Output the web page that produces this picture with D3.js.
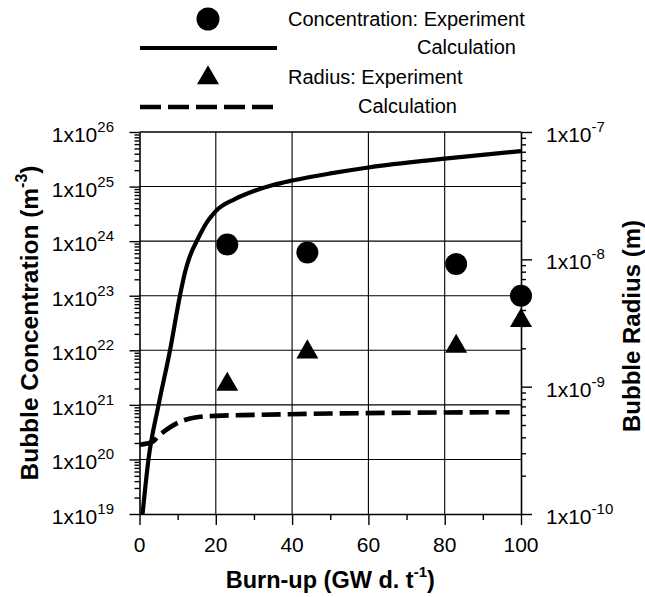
<!DOCTYPE html>
<html>
<head>
<meta charset="utf-8">
<script src="https://cdn.jsdelivr.net/npm/d3@7"></script>
<style>
  html, body { margin: 0; padding: 0; background: #fff; }
  svg { display: block; }
  text { font-family: "Liberation Sans", Arial, Helvetica, sans-serif; fill: #000; }
</style>
</head>
<body>
<script>
// ---------------- DATA ----------------
const burnupTicks = [0, 20, 40, 60, 80, 100];
const burnupMinorTicks = [10, 30, 50, 70, 90];
const concTickExponents = [19, 20, 21, 22, 23, 24, 25, 26];
const radiusTickExponents = [-10, -9, -8, -7];

// Concentration: Experiment (circles)
const concExpBurnup = [23, 44, 83, 100];
const concExpValues = [8.7e23, 6.2e23, 3.8e23, 1.0e23];

// Radius: Experiment (triangles)
const radExpBurnup = [23, 44, 83, 100];
const radExpValues = [1.04e-9, 1.87e-9, 2.07e-9, 3.3e-9];

// Concentration: Calculation (solid line)
const concCalcBurnup = [0.8, 2.35, 5, 8, 10.6, 12, 13, 14, 15, 16, 17, 18, 19, 20, 25, 30, 35, 40, 50, 60, 80, 100];
const concCalcValues = [1e19, 1e20, 1e21, 1e22, 1e23, 2.8e23, 4.8e23, 7.2e23, 1e24, 1.38e24, 1.86e24, 2.4e24, 2.95e24, 3.55e24, 5.9e24, 8.3e24, 1.07e25, 1.29e25, 1.74e25, 2.24e25, 3.24e25, 4.47e25];

// Radius: Calculation (dashed line)
const radCalcBurnup = [0, 3.5, 5, 8, 10, 13, 16, 20, 30, 50, 97];
const radCalcValues = [3.5e-10, 3.7e-10, 4.1e-10, 4.8e-10, 5.2e-10, 5.6e-10, 5.8e-10, 5.9e-10, 6.0e-10, 6.15e-10, 6.3e-10];

const legendLabels = ["Concentration: Experiment", "Calculation", "Radius: Experiment", "Calculation"];

// ---------------- LAYOUT ----------------
const W = 645, H = 597;
const L = 139.5, R = 521, T = 132, B = 514;

const svg = d3.select("body").append("svg").attr("width", W).attr("height", H);

const x = d3.scaleLinear().domain([0, 100]).range([L, R]);
const yL = d3.scaleLog().domain([1e19, 1e26]).range([B, T]);
const yR = d3.scaleLog().domain([1e-10, 1e-7]).range([B, T]);

// grid
const grid = svg.append("g").attr("stroke", "#000").attr("stroke-width", 1.1);
grid.selectAll("line.v").data(burnupTicks.slice(1, -1)).join("line")
  .attr("x1", d => x(d)).attr("x2", d => x(d)).attr("y1", T).attr("y2", B);
grid.selectAll("line.h").data(concTickExponents.slice(1, -1)).join("line")
  .attr("x1", L).attr("x2", R).attr("y1", d => yL(Math.pow(10, d))).attr("y2", d => yL(Math.pow(10, d)));

// axes
function supLabel(sel, exp) {
  sel.text("1x10");
  sel.append("tspan").attr("dy", -10).attr("font-size", 15).text(exp);
}
const isDecade = d => Math.abs(Math.log10(d) - Math.round(Math.log10(d))) < 1e-9;

const axL = d3.axisLeft(yL).tickSizeOuter(0).tickValues(
  d3.range(19, 26).flatMap(e => d3.range(1, 10).map(m => m * Math.pow(10, e))).concat([1e26])
).tickFormat("");
const gL = svg.append("g").attr("transform", `translate(${L},0)`).call(axL);
gL.selectAll(".tick line").attr("x2", d => isDecade(d) ? -10 : -5);

const axR = d3.axisRight(yR).tickSizeOuter(0).tickValues(
  d3.range(-10, -7).flatMap(e => d3.range(1, 10).map(m => m * Math.pow(10, e))).concat([1e-7])
).tickFormat("");
const gR = svg.append("g").attr("transform", `translate(${R},0)`).call(axR);
gR.selectAll(".tick line").attr("x2", d => isDecade(d) ? 11 : 5);

const axB = d3.axisBottom(x).tickSizeOuter(0).tickValues(burnupTicks.concat(burnupMinorTicks)).tickFormat("");
const gB = svg.append("g").attr("transform", `translate(0,${B})`).call(axB);
gB.selectAll(".tick line").attr("y2", d => burnupTicks.includes(d) ? 11 : 6);

[gL, gR, gB].forEach(g => {
  g.selectAll(".domain").attr("stroke", "#000").attr("stroke-width", 1.6);
  g.selectAll(".tick line").attr("stroke", "#000").attr("stroke-width", 1.4);
});
// top frame
svg.append("line").attr("x1", L).attr("x2", R).attr("y1", T).attr("y2", T)
  .attr("stroke", "#000").attr("stroke-width", 1.6);

// tick labels
svg.append("g").selectAll("text").data(concTickExponents).join("text")
  .attr("x", 114).attr("y", d => yL(Math.pow(10, d)) + 10)
  .attr("text-anchor", "end").attr("font-size", 21)
  .each(function(d) { supLabel(d3.select(this), d); });

svg.append("g").selectAll("text").data(radiusTickExponents).join("text")
  .attr("x", 546).attr("y", d => yR(Math.pow(10, d)) + 10)
  .attr("text-anchor", "start").attr("font-size", 21)
  .each(function(d) { supLabel(d3.select(this), d); });

svg.append("g").selectAll("text").data(burnupTicks).join("text")
  .attr("x", d => x(d)).attr("y", 552)
  .attr("text-anchor", "middle").attr("font-size", 21)
  .text(d => d);

// axis titles
const xt = svg.append("text").attr("x", (L + R) / 2).attr("y", 588)
  .attr("text-anchor", "middle").attr("font-size", 23.5).attr("font-weight", "bold");
xt.append("tspan").text("Burn-up (GW d. t");
xt.append("tspan").attr("dy", -11).attr("font-size", 15).text("-1");
xt.append("tspan").attr("dy", 11).text(")");

const ylt = svg.append("text").attr("transform", `translate(38,${(T + B) / 2}) rotate(-90)`)
  .attr("text-anchor", "middle").attr("font-size", 24.5).attr("font-weight", "bold");
ylt.append("tspan").text("Bubble Concentration (m");
ylt.append("tspan").attr("dy", -11).attr("font-size", 16).text("-3");
ylt.append("tspan").attr("dy", 11).text(")");

svg.append("text").attr("transform", `translate(640,${(T + B) / 2 + 3}) rotate(-90)`)
  .attr("text-anchor", "middle").attr("font-size", 24).attr("font-weight", "bold")
  .text("Bubble Radius (m)");

// lines
const plot = svg.append("g");
const concLine = d3.line().x((d, i) => x(concCalcBurnup[i])).y(d => yL(d)).curve(d3.curveMonotoneX);
plot.append("path").datum(concCalcValues).attr("d", concLine)
  .attr("fill", "none").attr("stroke", "#000").attr("stroke-width", 4.2).attr("stroke-linejoin", "round");

const radLine = d3.line().x((d, i) => x(radCalcBurnup[i])).y(d => yR(d)).curve(d3.curveMonotoneX);
plot.append("path").datum(radCalcValues).attr("d", radLine)
  .attr("fill", "none").attr("stroke", "#000").attr("stroke-width", 4.6)
  .attr("stroke-dasharray", "19,7");

// markers
plot.selectAll("circle.exp").data(concExpValues).join("circle")
  .attr("cx", (d, i) => x(concExpBurnup[i])).attr("cy", d => yL(d)).attr("r", 11).attr("fill", "#000");

const tri = d3.symbol().type(d3.symbolTriangle).size(210);
plot.selectAll("path.tri").data(radExpValues).join("path")
  .attr("d", tri).attr("transform", (d, i) => `translate(${x(radExpBurnup[i])},${yR(d)})`).attr("fill", "#000");

// legend
const lg = svg.append("g");
lg.append("circle").attr("cx", 208).attr("cy", 19).attr("r", 11.5).attr("fill", "#000");
lg.append("line").attr("x1", 140).attr("x2", 277).attr("y1", 48).attr("y2", 48)
  .attr("stroke", "#000").attr("stroke-width", 4.2);
lg.append("path").attr("d", tri).attr("transform", "translate(208,78)").attr("fill", "#000");
lg.append("line").attr("x1", 140).attr("x2", 273).attr("y1", 107).attr("y2", 107)
  .attr("stroke", "#000").attr("stroke-width", 4.6).attr("stroke-dasharray", "21,7");

const legendPos = [[288, 26], [417, 54], [288, 84], [358, 113]];
lg.selectAll("text").data(legendLabels).join("text")
  .attr("x", (d, i) => legendPos[i][0]).attr("y", (d, i) => legendPos[i][1])
  .attr("font-size", 20).text(d => d);
</script>
</body>
</html>
